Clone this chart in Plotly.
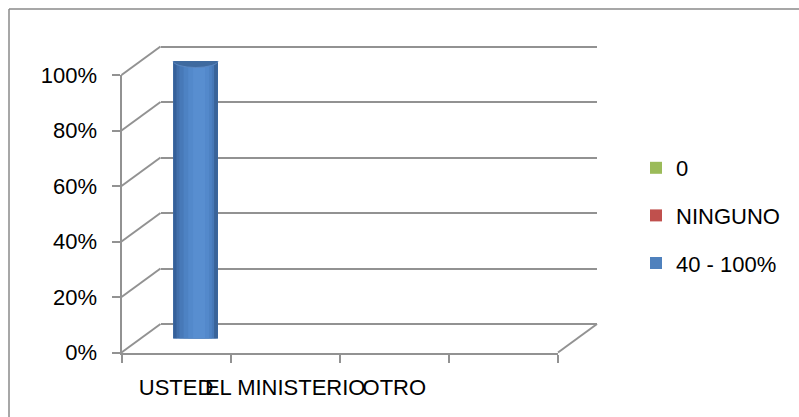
import plotly.graph_objects as go

# ---------------- data ----------------
categories = ["USTED", "EL MINISTERIO", "OTRO"]
n_slots = 4  # the category axis has one extra empty slot
serie_40_100 = [1.0, 0.0, 0.0]
serie_ninguno = [0.0, 0.0, 0.0]
serie_0 = [0.0, 0.0, 0.0]
y_ticks = [0, 0.2, 0.4, 0.6, 0.8, 1.0]
y_tick_labels = ["0%", "20%", "40%", "60%", "80%", "100%"]

# legend order as in the reference (top to bottom)
series = [
    ("0", serie_0, "#9BBB59"),
    ("NINGUNO", serie_ninguno, "#C0504D"),
    ("40 - 100%", serie_40_100, "#4F81BD"),
]

# ---------------- geometry ----------------
W, H = 799, 417
FONT = "Liberation Sans"
GRID = "#929292"

def dom_x(a, b):
    return [a / W, b / W]

def dom_y(top, bottom):
    return [(H - bottom) / H, (H - top) / H]

# back wall: y range padded so that 0% and 100% gridlines are not at the edge
PAD = 0.02
BACK_TOP, BACK_BOT = 46.5, 324.0
span = BACK_BOT - BACK_TOP
back_x = dom_x(160.5, 597)
back_y = dom_y(BACK_TOP - PAD * span, BACK_BOT + PAD * span)
back_yr = [-PAD, 1 + PAD]

mid_x, mid_y = dom_x(141, 577.5), dom_y(61, 338.5)
front_x, front_y = dom_x(121.5, 558), dom_y(75, 352.5)

xr = [-0.5, n_slots - 0.5]
yr = [0, 1]

def px(dom, rng, v):
    return dom[0] + (v - rng[0]) / (rng[1] - rng[0]) * (dom[1] - dom[0])

fig = go.Figure()

# back wall subplot (gridlines) -- an invisible trace to instantiate it
fig.add_trace(go.Scatter(x=[xr[0]], y=[0], mode="markers", marker=dict(opacity=0),
                         showlegend=False, hoverinfo="skip", xaxis="x", yaxis="y"))
# front subplot (axes)
fig.add_trace(go.Scatter(x=[xr[0]], y=[0], mode="markers", marker=dict(opacity=0),
                         showlegend=False, hoverinfo="skip", xaxis="x2", yaxis="y2"))

bar_w = 0.41
xs = list(range(len(categories)))

# series (legend entries + base bars) in the middle depth
for i, (name, vals, col) in enumerate(series):
    fig.add_trace(go.Bar(x=xs, y=vals, name=name, marker=dict(color=col, line=dict(width=0)),
                         width=bar_w, xaxis="x3", yaxis="y3",
                         legendgroup="g%d" % i))

# cylinder shading: overlaid narrower bars on the blue series
shade = [(0.37, 0.005, "#416FAB"), (0.32, 0.012, "#4779B8"), (0.26, 0.02, "#4D82C3"),
         (0.19, 0.028, "#5389CB"), (0.11, 0.032, "#588ED0")]
for w, sh, col in shade:
    fig.add_trace(go.Bar(x=xs, y=serie_40_100, width=w, offset=sh - w / 2,
                         marker=dict(color=col, line=dict(width=0)),
                         showlegend=False, hoverinfo="skip", xaxis="x3", yaxis="y3"))
fig.add_trace(go.Bar(x=xs, y=serie_40_100, width=0.03, offset=-bar_w / 2,
                     marker=dict(color="#35609A", line=dict(width=0)),
                     showlegend=False, hoverinfo="skip", xaxis="x3", yaxis="y3"))
fig.add_trace(go.Bar(x=xs, y=serie_40_100, width=0.035, offset=bar_w / 2 - 0.035,
                     marker=dict(color="#3A6499", line=dict(width=0)),
                     showlegend=False, hoverinfo="skip", xaxis="x3", yaxis="y3"))

shapes = []
# cylinder caps
for xi, v in zip(xs, serie_40_100):
    if v > 0:
        shapes.append(dict(type="circle", xref="x3", yref="y3", layer="below",
                           x0=xi - bar_w / 2, x1=xi + bar_w / 2,
                           ysizemode="pixel", yanchor=0, y0=-6.5, y1=6.5,
                           fillcolor="#4476B4", line=dict(width=0)))
        shapes.append(dict(type="circle", xref="x3", yref="y3", layer="above",
                           x0=xi - bar_w / 2, x1=xi + bar_w / 2,
                           ysizemode="pixel", yanchor=v, y0=-6.5, y1=6.5,
                           fillcolor="#3F6A9F", line=dict(width=1, color="#5B87C0")))

# depth connectors from front axis ticks to back wall gridlines
for v in y_ticks:
    shapes.append(dict(type="line", xref="paper", yref="paper",
                       x0=px(front_x, xr, xr[0]), y0=px(front_y, yr, v),
                       x1=px(back_x, xr, xr[0]), y1=px(back_y, back_yr, v),
                       line=dict(color=GRID, width=2)))
shapes.append(dict(type="line", xref="paper", yref="paper",
                   x0=px(front_x, xr, xr[1]), y0=px(front_y, yr, 0),
                   x1=px(back_x, xr, xr[1]), y1=px(back_y, back_yr, 0),
                   line=dict(color=GRID, width=2)))

# outer chart border (top and left visible)
shapes.append(dict(type="line", xref="paper", yref="paper", x0=9 / W, x1=1.02,
                   y0=(H - 9) / H, y1=(H - 9) / H, line=dict(color="#8A8A8A", width=1.5)))
shapes.append(dict(type="line", xref="paper", yref="paper", x0=9 / W, x1=9 / W,
                   y0=-0.02, y1=(H - 9) / H, line=dict(color="#8A8A8A", width=1.5)))

fig.update_layout(
    template="none",
    width=W, height=H,
    autosize=False,
    margin=dict(l=0, r=0, t=0, b=0, pad=0, autoexpand=False),
    paper_bgcolor="white",
    plot_bgcolor="rgba(0,0,0,0)",
    barmode="overlay",
    font=dict(family=FONT, size=22, color="black"),
    showlegend=True,
    legend=dict(x=636 / W, y=(H - 147) / H, xanchor="left", yanchor="top",
                traceorder="grouped", tracegroupgap=16,
                font=dict(family=FONT, size=22, color="black"),
                bgcolor="rgba(0,0,0,0)", borderwidth=0),
    shapes=shapes,
    xaxis=dict(domain=back_x, range=xr, visible=True, showgrid=False, zeroline=False,
               showticklabels=False, ticks="", showline=False, anchor="y", automargin=False),
    yaxis=dict(domain=back_y, range=back_yr, tickvals=y_ticks, showgrid=True, gridcolor=GRID,
               gridwidth=2, zeroline=False, showticklabels=False, ticks="", showline=False,
               anchor="x", automargin=False),
    xaxis2=dict(domain=front_x, range=xr, anchor="y2", showgrid=False, zeroline=False,
                tickvals=xs, ticktext=categories, ticks="", tickangle=0,
                showline=True, linecolor=GRID, linewidth=2, automargin=False,
                ticklabelstandoff=14,
                tickfont=dict(family=FONT, size=22, color="black"),
                minor=dict(tickvals=[k - 0.5 for k in range(n_slots + 1)], ticks="outside",
                           ticklen=8, tickwidth=2, tickcolor=GRID)),
    yaxis2=dict(domain=front_y, range=yr, anchor="x2", tickvals=y_ticks, ticktext=y_tick_labels,
                showgrid=False, zeroline=False, ticks="outside", ticklen=8, tickwidth=2,
                tickcolor=GRID, showline=True, linecolor=GRID, linewidth=2, automargin=False,
                ticklabelstandoff=10,
                tickfont=dict(family=FONT, size=22, color="black")),
    xaxis3=dict(domain=mid_x, range=xr, anchor="y3", visible=False, automargin=False),
    yaxis3=dict(domain=mid_y, range=yr, anchor="x3", visible=False, automargin=False),
)

fig.write_html("out.html", config={"displayModeBar": False},
               post_script="document.body.style.margin='0';")
